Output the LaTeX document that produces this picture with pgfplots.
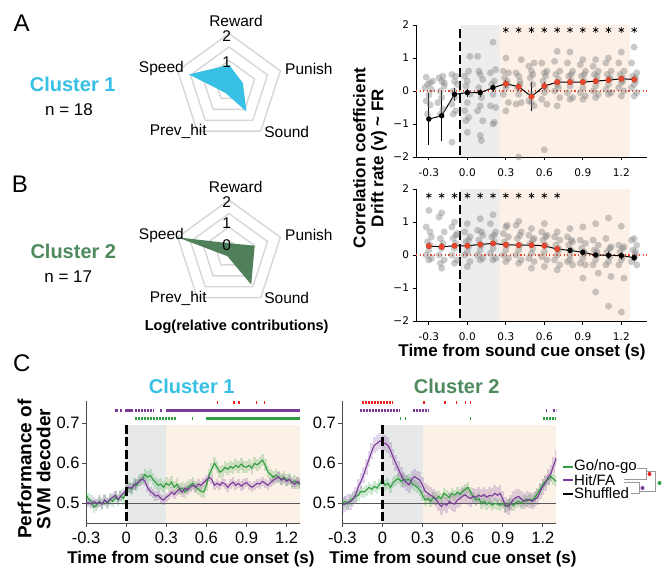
\documentclass[border=0pt]{standalone}
\usepackage{fontspec}
\setmainfont{Liberation Sans}
\newfontfamily\dejavu{DejaVu Sans}
\usepackage{pgfplots}
\usepackage{pgfplotstable}
\usepgfplotslibrary{polar}
\pgfplotsset{compat=1.18}

\newcommand{\fsz}[2]{\fontsize{#1}{#2}\selectfont}

\definecolor{cyanc}{HTML}{37C0E3}
\definecolor{greenc}{HTML}{4E8A5D}
\definecolor{greenf}{HTML}{4F8059}
\definecolor{ringc}{HTML}{D6D6D6}
\definecolor{shgray}{HTML}{EDEDED}
\definecolor{shorange}{HTML}{FDF1E7}
\definecolor{ptgray}{HTML}{808080}
\definecolor{redpt}{HTML}{E8472E}
\definecolor{gogreen}{HTML}{2E9E3E}
\definecolor{hitpurple}{HTML}{7A3B9A}
\definecolor{sigred}{HTML}{E82020}
\definecolor{cgray}{HTML}{E6E9E8}
\definecolor{corange}{HTML}{FCF1E6}

% scatter of single-neuron correlations, cluster 1
\pgfplotstableread[row sep=\\]{
x y\\
-0.32 0.42\\ -0.29 0.25\\ -0.31 0.2\\ -0.28 0.05\\ -0.3 -0.12\\ -0.32 -0.3\\ -0.29 -0.42\\ -0.31 -0.7\\ -0.27 0.3\\ -0.33 0.1\\
-0.22 0.4\\ -0.19 0.45\\ -0.2 0.3\\ -0.18 0.15\\ -0.21 0.0\\ -0.2 -0.2\\ -0.23 -0.35\\ -0.19 -0.55\\ -0.21 -0.7\\ -0.18 0.25\\
-0.12 0.5\\ -0.09 0.45\\ -0.1 0.3\\ -0.08 0.2\\ -0.11 0.0\\ -0.1 -0.2\\ -0.12 -0.4\\ -0.09 -0.6\\ -0.11 -0.7\\ -0.12 -1.55\\
-0.02 0.45\\ 0.01 0.6\\ 0.02 1.05\\ 0.0 0.3\\ -0.01 0.15\\ 0.02 -0.1\\ 0.0 -0.35\\ -0.02 -0.6\\ 0.01 -0.8\\ 0.0 -1.25\\ -0.01 -0.9\\
0.08 1.05\\ 0.1 0.5\\ 0.12 0.35\\ 0.09 0.1\\ 0.11 -0.2\\ 0.1 -0.45\\ 0.08 -0.6\\ 0.12 -0.9\\ 0.1 -1.35\\ 0.11 -1.5\\ 0.09 0.6\\
0.2 1.48\\ 0.22 0.65\\ 0.18 0.55\\ 0.21 0.3\\ 0.19 0.2\\ 0.2 -0.1\\ 0.22 -0.5\\ 0.18 -0.45\\ 0.2 -1.0\\ 0.21 -0.95\\
0.3 1.0\\ 0.28 0.6\\ 0.32 0.55\\ 0.29 0.4\\ 0.31 0.3\\ 0.3 0.1\\ 0.28 -0.1\\ 0.32 -0.35\\ 0.3 -0.6\\ 0.31 0.2\\
0.42 0.95\\ 0.38 0.55\\ 0.4 0.45\\ 0.41 0.3\\ 0.39 0.1\\ 0.4 -0.1\\ 0.42 -0.35\\ 0.38 -0.4\\ 0.4 -2.0\\ 0.41 0.2\\
0.48 0.75\\ 0.52 0.85\\ 0.5 0.6\\ 0.49 0.4\\ 0.51 0.2\\ 0.5 -0.1\\ 0.48 -0.3\\ 0.52 -0.45\\ 0.5 -0.35\\ 0.51 0.5\\
0.58 0.85\\ 0.62 0.6\\ 0.6 0.55\\ 0.59 0.3\\ 0.61 0.1\\ 0.6 -0.05\\ 0.58 -0.25\\ 0.62 -0.4\\ 0.6 -1.78\\ 0.61 0.45\\
0.7 1.2\\ 0.68 0.9\\ 0.72 0.6\\ 0.69 0.5\\ 0.71 0.35\\ 0.7 0.2\\ 0.68 0.0\\ 0.72 -0.2\\ 0.7 -0.45\\ 0.71 0.1\\
0.8 1.18\\ 0.78 0.85\\ 0.82 0.6\\ 0.79 0.45\\ 0.81 0.3\\ 0.8 0.15\\ 0.78 -0.05\\ 0.82 -0.2\\ 0.8 -0.25\\ 0.81 0.5\\
0.9 0.95\\ 0.88 0.8\\ 0.92 0.6\\ 0.89 0.45\\ 0.91 0.3\\ 0.9 0.1\\ 0.88 -0.05\\ 0.92 -0.15\\ 0.9 -0.25\\ 0.91 0.5\\
1.0 0.95\\ 0.98 0.75\\ 1.02 0.6\\ 0.99 0.5\\ 1.01 0.3\\ 1.0 0.15\\ 0.98 0.0\\ 1.02 -0.1\\ 1.0 -0.2\\ 1.01 0.45\\
1.1 1.0\\ 1.08 0.85\\ 1.12 0.6\\ 1.09 0.5\\ 1.11 0.35\\ 1.1 0.2\\ 1.08 0.05\\ 1.12 -0.05\\ 1.1 -0.1\\ 1.11 0.4\\
1.2 1.18\\ 1.18 0.85\\ 1.22 0.6\\ 1.19 0.5\\ 1.21 0.4\\ 1.2 0.25\\ 1.18 0.1\\ 1.22 0.0\\ 1.2 -0.15\\ 1.21 0.3\\
1.3 1.33\\ 1.28 0.85\\ 1.32 0.55\\ 1.29 0.45\\ 1.31 0.3\\ 1.3 0.2\\ 1.28 0.1\\ 1.32 -0.05\\ 1.3 -0.15\\ 1.31 0.4\\
}\scatA

% cluster 2
\pgfplotstableread[row sep=\\]{
x y\\
-0.3 1.35\\ -0.32 0.85\\ -0.28 0.55\\ -0.31 0.4\\ -0.29 0.3\\ -0.3 0.15\\ -0.32 0.0\\ -0.28 -0.1\\ -0.3 -0.15\\ -0.29 0.7\\
-0.2 1.28\\ -0.22 1.15\\ -0.18 0.7\\ -0.21 0.5\\ -0.19 0.35\\ -0.2 0.2\\ -0.22 0.0\\ -0.18 -0.15\\ -0.2 -0.4\\ -0.21 -0.25\\
-0.1 1.0\\ -0.12 0.85\\ -0.08 0.65\\ -0.11 0.5\\ -0.09 0.35\\ -0.1 0.2\\ -0.12 0.0\\ -0.08 -0.15\\ -0.1 -0.25\\ -0.09 0.6\\
0.0 0.95\\ -0.02 0.7\\ 0.02 0.55\\ -0.01 0.4\\ 0.01 0.25\\ 0.0 0.1\\ -0.02 0.0\\ 0.02 -0.2\\ 0.0 -0.35\\ 0.01 0.45\\
0.1 1.1\\ 0.08 0.75\\ 0.12 0.6\\ 0.09 0.45\\ 0.11 0.3\\ 0.1 0.15\\ 0.08 0.0\\ 0.12 -0.1\\ 0.1 -0.15\\ 0.11 0.7\\
0.2 1.22\\ 0.18 0.95\\ 0.22 0.7\\ 0.19 0.55\\ 0.21 0.4\\ 0.2 0.2\\ 0.18 0.05\\ 0.22 -0.1\\ 0.2 -0.15\\ 0.21 0.6\\
0.3 0.85\\ 0.28 0.65\\ 0.32 0.55\\ 0.29 0.4\\ 0.31 0.3\\ 0.3 0.15\\ 0.28 0.0\\ 0.32 -0.1\\ 0.3 -0.2\\ 0.31 0.9\\
0.4 1.02\\ 0.38 0.9\\ 0.42 0.7\\ 0.39 0.5\\ 0.41 0.3\\ 0.4 0.15\\ 0.38 0.0\\ 0.42 -0.15\\ 0.4 -0.25\\ 0.41 0.6\\
0.5 0.8\\ 0.48 0.6\\ 0.52 0.5\\ 0.49 0.35\\ 0.51 0.2\\ 0.5 0.05\\ 0.48 -0.1\\ 0.52 -0.2\\ 0.5 -0.4\\ 0.51 0.45\\
0.6 0.95\\ 0.58 0.7\\ 0.62 0.6\\ 0.59 0.45\\ 0.61 0.3\\ 0.6 0.1\\ 0.58 -0.05\\ 0.62 -0.15\\ 0.6 -0.35\\ 0.61 0.55\\
0.7 0.7\\ 0.68 0.55\\ 0.72 0.45\\ 0.69 0.3\\ 0.71 0.15\\ 0.7 0.0\\ 0.68 -0.15\\ 0.72 -0.3\\ 0.7 -0.45\\ 0.71 0.2\\
0.8 0.8\\ 0.78 0.55\\ 0.82 0.4\\ 0.79 0.3\\ 0.81 0.15\\ 0.8 0.0\\ 0.78 -0.2\\ 0.82 -0.3\\ 0.8 -0.15\\ 0.81 0.45\\
0.9 0.85\\ 0.88 0.45\\ 0.92 0.35\\ 0.89 0.2\\ 0.91 0.05\\ 0.9 -0.1\\ 0.88 -0.25\\ 0.92 -0.3\\ 0.9 -0.7\\ 0.91 0.1\\
1.0 0.95\\ 0.98 0.45\\ 1.02 0.3\\ 0.99 0.15\\ 1.01 0.0\\ 1.0 -0.15\\ 0.98 -0.3\\ 1.02 -0.55\\ 1.0 -1.12\\ 1.01 0.1\\
1.1 1.12\\ 1.08 0.5\\ 1.12 0.25\\ 1.09 0.1\\ 1.11 -0.05\\ 1.1 -0.2\\ 1.08 -0.3\\ 1.12 -0.65\\ 1.1 -1.55\\ 1.11 0.2\\
1.2 0.87\\ 1.18 0.3\\ 1.22 0.25\\ 1.19 0.1\\ 1.21 -0.05\\ 1.2 -0.15\\ 1.18 -0.3\\ 1.22 -0.7\\ 1.2 -1.73\\ 1.21 0.2\\
1.3 0.5\\ 1.28 0.45\\ 1.32 0.3\\ 1.29 0.15\\ 1.31 0.0\\ 1.3 -0.1\\ 1.28 -0.2\\ 1.32 -0.3\\ 1.3 -2.02\\ 1.31 0.1\\
}\scatB

\pgfplotstableread[row sep=\\]{
x y e\\
-0.3 -0.85 0.8\\ -0.2 -0.75 0.75\\ -0.1 -0.1 0.2\\ 0.0 -0.05 0.12\\ 0.1 -0.05 0.12\\ 0.2 0.1 0.12\\
0.3 0.22 0.12\\ 0.4 0.13 0.12\\ 0.5 -0.17 0.45\\ 0.6 0.15 0.12\\ 0.7 0.27 0.08\\ 0.8 0.27 0.08\\
0.9 0.27 0.08\\ 1.0 0.3 0.08\\ 1.1 0.33 0.08\\ 1.2 0.37 0.08\\ 1.3 0.35 0.08\\
}\meanA

\pgfplotstableread[row sep=\\]{
x y e\\
-0.3 0.27 0.1\\ -0.2 0.25 0.1\\ -0.1 0.28 0.08\\ 0.0 0.28 0.07\\ 0.1 0.32 0.08\\ 0.2 0.35 0.08\\
0.3 0.31 0.07\\ 0.4 0.3 0.08\\ 0.5 0.3 0.07\\ 0.6 0.28 0.08\\ 0.7 0.18 0.08\\ 0.8 0.14 0.08\\
0.9 0.08 0.09\\ 1.0 0.0 0.1\\ 1.1 -0.01 0.12\\ 1.2 -0.02 0.12\\ 1.3 -0.08 0.1\\
}\meanB

% decoder performance, cluster 1: t, go/no-go, hit/FA
\pgfplotstableread[row sep=\\]{
t g p\\
-0.30 0.523 0.500\\ -0.28 0.510 0.502\\ -0.26 0.505 0.498\\ -0.24 0.490 0.505\\ -0.22 0.496 0.500\\
-0.20 0.505 0.503\\ -0.18 0.498 0.498\\ -0.16 0.508 0.508\\ -0.14 0.500 0.502\\ -0.12 0.510 0.510\\
-0.10 0.505 0.515\\ -0.08 0.515 0.520\\ -0.06 0.508 0.510\\ -0.04 0.518 0.518\\ -0.02 0.512 0.525\\
0.00 0.530 0.533\\ 0.02 0.540 0.540\\ 0.04 0.535 0.538\\ 0.06 0.548 0.545\\ 0.08 0.545 0.550\\
0.10 0.558 0.555\\ 0.12 0.560 0.562\\ 0.14 0.572 0.555\\ 0.16 0.565 0.540\\ 0.18 0.570 0.530\\
0.20 0.560 0.525\\ 0.22 0.552 0.518\\ 0.24 0.545 0.520\\ 0.26 0.548 0.512\\ 0.28 0.540 0.508\\
0.30 0.550 0.515\\ 0.32 0.545 0.520\\ 0.34 0.553 0.528\\ 0.36 0.540 0.522\\ 0.38 0.548 0.530\\
0.40 0.535 0.535\\ 0.42 0.538 0.528\\ 0.44 0.528 0.538\\ 0.46 0.540 0.533\\ 0.48 0.545 0.540\\
0.50 0.550 0.545\\ 0.52 0.540 0.540\\ 0.54 0.535 0.548\\ 0.56 0.530 0.545\\ 0.58 0.528 0.552\\
0.60 0.545 0.558\\ 0.62 0.570 0.565\\ 0.64 0.585 0.560\\ 0.66 0.600 0.545\\ 0.68 0.590 0.550\\
0.70 0.578 0.545\\ 0.72 0.582 0.552\\ 0.74 0.590 0.548\\ 0.76 0.585 0.540\\ 0.78 0.592 0.548\\
0.80 0.588 0.553\\ 0.82 0.595 0.545\\ 0.84 0.590 0.550\\ 0.86 0.598 0.543\\ 0.88 0.592 0.548\\
0.90 0.590 0.552\\ 0.92 0.595 0.545\\ 0.94 0.588 0.540\\ 0.96 0.600 0.545\\ 0.98 0.596 0.550\\
1.00 0.602 0.548\\ 1.02 0.608 0.555\\ 1.04 0.595 0.550\\ 1.06 0.578 0.545\\ 1.08 0.572 0.552\\
1.10 0.565 0.558\\ 1.12 0.570 0.562\\ 1.14 0.566 0.566\\ 1.16 0.560 0.558\\ 1.18 0.565 0.562\\
1.20 0.558 0.555\\ 1.22 0.560 0.560\\ 1.24 0.552 0.552\\ 1.26 0.556 0.548\\ 1.28 0.550 0.555\\
1.30 0.548 0.550\\
}\cone

% cluster 2
\pgfplotstableread[row sep=\\]{
t g p\\
-0.30 0.500 0.496\\ -0.28 0.505 0.498\\ -0.26 0.498 0.503\\ -0.24 0.508 0.504\\ -0.22 0.512 0.510\\
-0.20 0.517 0.522\\ -0.18 0.520 0.542\\ -0.16 0.530 0.555\\ -0.14 0.528 0.572\\ -0.12 0.533 0.592\\
-0.10 0.540 0.610\\ -0.08 0.535 0.630\\ -0.06 0.542 0.645\\ -0.04 0.538 0.650\\ -0.02 0.548 0.656\\
0.00 0.558 0.652\\ 0.02 0.545 0.650\\ 0.04 0.550 0.645\\ 0.06 0.540 0.633\\ 0.08 0.552 0.615\\
0.10 0.558 0.600\\ 0.12 0.562 0.585\\ 0.14 0.555 0.570\\ 0.16 0.560 0.558\\ 0.18 0.558 0.552\\
0.20 0.560 0.546\\ 0.22 0.550 0.560\\ 0.24 0.545 0.567\\ 0.26 0.540 0.562\\ 0.28 0.533 0.558\\
0.30 0.520 0.545\\ 0.32 0.508 0.530\\ 0.34 0.512 0.525\\ 0.36 0.505 0.520\\ 0.38 0.515 0.517\\
0.40 0.510 0.510\\ 0.42 0.517 0.500\\ 0.44 0.512 0.492\\ 0.46 0.525 0.500\\ 0.48 0.520 0.495\\
0.50 0.515 0.505\\ 0.52 0.525 0.500\\ 0.54 0.520 0.498\\ 0.56 0.528 0.508\\ 0.58 0.522 0.512\\
0.60 0.530 0.518\\ 0.62 0.535 0.521\\ 0.64 0.540 0.515\\ 0.66 0.528 0.512\\ 0.68 0.515 0.518\\
0.70 0.508 0.515\\ 0.72 0.512 0.520\\ 0.74 0.500 0.517\\ 0.76 0.505 0.522\\ 0.78 0.498 0.515\\
0.80 0.502 0.520\\ 0.82 0.495 0.518\\ 0.84 0.500 0.525\\ 0.86 0.498 0.520\\ 0.88 0.495 0.525\\
0.90 0.500 0.510\\ 0.92 0.492 0.495\\ 0.94 0.498 0.492\\ 0.96 0.500 0.500\\ 0.98 0.495 0.510\\
1.00 0.502 0.515\\ 1.02 0.505 0.517\\ 1.04 0.500 0.510\\ 1.06 0.508 0.505\\ 1.08 0.505 0.510\\
1.10 0.510 0.508\\ 1.12 0.508 0.505\\ 1.14 0.515 0.510\\ 1.16 0.525 0.515\\ 1.18 0.535 0.530\\
1.20 0.548 0.542\\ 1.22 0.555 0.552\\ 1.24 0.560 0.565\\ 1.26 0.567 0.575\\ 1.28 0.560 0.595\\
1.30 0.555 0.613\\
}\ctwo

\pgfplotsset{
  radar/.style={hide axis, scale only axis, width=108pt, height=108pt,
    xmin=0, xmax=360, ymin=0, ymax=1, anchor=center, clip=false},
  ring/.style={ringc, line width=1.4pt},
  corr/.style={scale only axis, width=231pt, height=132pt, anchor=south west,
    xmin=-0.4, xmax=1.4, ymin=-2, ymax=2,
    axis x line*=bottom, axis y line*=left,
    axis line style={-, line width=0.8pt},
    tick align=outside, major tick length=3.5pt,
    tick style={black, line width=0.8pt},
    xtick={-0.3,0,0.3,0.6,0.9,1.2}, xticklabels={-0.3,0.0,0.3,0.6,0.9,1.2},
    ytick={-2,-1,0,1,2}, yticklabels={−2,−1,0,1,2},
    ticklabel style={font=\dejavu\fsz{10.5}{12}},
    xticklabel style={yshift=-5pt}},
  scat/.style={only marks, mark=*, mark size=3.5pt, color=ptgray,
    mark options={draw opacity=0, fill=ptgray, fill opacity=0.42}},
  meanline/.style={black, line width=1pt, mark=*, mark size=2.2pt,
    error bars/.cd, y dir=both, y explicit,
    error bar style={line width=0.9pt, black}, error mark=none},
  vdash/.style={black, line width=2pt, dash pattern=on 9pt off 4pt},
  perf/.style={scale only axis, width=214pt, height=122.8pt, anchor=south west,
    xmin=-0.3, xmax=1.3, ymin=0.45, ymax=0.757,
    axis x line*=bottom, axis y line*=left,
    axis line style={-, line width=0.9pt, black!70},
    tick align=outside, major tick length=4pt,
    tick style={black!70, line width=0.9pt},
    xtick={-0.3,0,0.3,0.6,0.9,1.2}, xticklabels={-0.3,0,0.3,0.6,0.9,1.2},
    ytick={0.5,0.6,0.7}, yticklabels={0.5,0.6,0.7},
    ticklabel style={font=\fsz{16.5}{18}},
    yticklabel style={xshift=1pt},
    xticklabel style={yshift=-3pt, inner sep=1pt}},
  band/.style={draw=none, mark=none,
    error bars/.cd, y dir=both, y explicit,
    error bar style={draw=#1, draw opacity=0.22, line width=2.7pt}, error mark=none},
  sig/.style={line width=3pt, dash pattern=on 2.4pt off 0.6pt, #1},
}

\begin{document}
\begin{tikzpicture}
\useasboundingbox (0pt,0pt) rectangle (669pt,-572pt);

% ---------- panel letters and cluster names ----------
\node[font=\fsz{24}{24}] at (21.7pt,-23pt) {A};
\node[font=\fsz{24}{24}] at (20pt,-184pt) {B};
\node[font=\fsz{24}{24}] at (21.7pt,-363pt) {C};
\node[font=\bfseries\fsz{20}{20}, text=cyanc] at (72.7pt,-84pt) {Cluster 1};
\node[font=\fsz{17}{17}] at (69pt,-109.3pt) {n = 18};
\node[font=\bfseries\fsz{20}{20}, text=greenc] at (73.3pt,-251.7pt) {Cluster 2};
\node[font=\fsz{17}{17}] at (68.3pt,-276.7pt) {n = 17};

% ---------- radar, cluster 1 ----------
% angles: Reward 90, Punish 18, Sound -54, Prev_hit -126, Speed 162
\begin{polaraxis}[radar, at={(229pt,-87.5pt)}]
\addplot[ring] coordinates {(90,1)(18,1)(-54,1)(-126,1)(162,1)(90,1)};
\addplot[ring] coordinates {(90,0.75)(18,0.75)(-54,0.75)(-126,0.75)(162,0.75)(90,0.75)};
\addplot[ring] coordinates {(90,0.5)(18,0.5)(-54,0.5)(-126,0.5)(162,0.5)(90,0.5)};
\addplot[ring] coordinates {(90,0.25)(18,0.25)(-54,0.25)(-126,0.25)(162,0.25)(90,0.25)};
\addplot[draw=none, fill=cyanc] coordinates {(90,0.42)(18,0.27)(-54,0.55)(-126,0.12)(162,0.78)(90,0.42)};
\end{polaraxis}
\begin{scope}[font=\fsz{15.5}{16}, inner sep=0pt]
\node at (236pt,-21pt) {Reward};
\node[anchor=west] at (285pt,-68.5pt) {Punish};
\node at (286.7pt,-131.7pt) {Sound};
\node at (178.3pt,-131.7pt) {Prev\_hit};
\node[anchor=east] at (184pt,-68.5pt) {Speed};
\node at (226.7pt,-36.5pt) {2};
\node at (226.7pt,-61.7pt) {1};
\end{scope}

% ---------- radar, cluster 2 ----------
\begin{polaraxis}[radar, at={(229pt,-254pt)}]
\addplot[ring] coordinates {(90,1)(18,1)(-54,1)(-126,1)(162,1)(90,1)};
\addplot[ring] coordinates {(90,0.75)(18,0.75)(-54,0.75)(-126,0.75)(162,0.75)(90,0.75)};
\addplot[ring] coordinates {(90,0.5)(18,0.5)(-54,0.5)(-126,0.5)(162,0.5)(90,0.5)};
\addplot[ring] coordinates {(90,0.25)(18,0.25)(-54,0.25)(-126,0.25)(162,0.25)(90,0.25)};
\addplot[draw=none, fill=greenf] coordinates {(90,0.2)(18,0.5)(-54,0.7)(-126,0.05)(162,1.0)(90,0.2)};
\end{polaraxis}
\begin{scope}[font=\fsz{15.5}{16}, inner sep=0pt]
\node at (235.7pt,-186.5pt) {Reward};
\node[anchor=west] at (285pt,-235pt) {Punish};
\node at (286.7pt,-298.3pt) {Sound};
\node at (178.3pt,-298.3pt) {Prev\_hit};
\node[anchor=east] at (184pt,-235pt) {Speed};
\node at (226.7pt,-202pt) {2};
\node at (226.7pt,-223pt) {1};
\node at (226.7pt,-245pt) {0};
\end{scope}
\node[font=\bfseries\fsz{14.5}{15}] at (236.7pt,-327pt) {Log(relative contributions)};

% ---------- correlation, cluster 1 ----------
\begin{axis}[corr, at={(416pt,-157pt)}]
\fill[shgray] (-0.055,-2) rectangle (0.255,2);
\fill[shorange] (0.255,-2) rectangle (1.265,2);
\addplot[scat] table[x=x,y=y] {\scatA};
\addplot[redpt, line width=1.2pt, dash pattern=on 1.2pt off 2.4pt] coordinates {(-0.4,0)(1.4,0)};
\addplot[meanline] table[x=x,y=y,y error=e] {\meanA};
\addplot[only marks, mark=*, mark size=2.7pt, color=redpt] coordinates {
  (0.3,0.22)(0.4,0.13)(0.5,-0.17)(0.6,0.15)(0.7,0.27)(0.8,0.27)(0.9,0.27)(1.0,0.3)(1.1,0.33)(1.2,0.37)(1.3,0.35)};
\addplot[vdash] coordinates {(-0.055,1.87)(-0.055,-2)};
\addplot[only marks, mark=asterisk, mark size=3pt, black, line width=0.7pt] coordinates {
  (0.3,1.85)(0.4,1.85)(0.5,1.85)(0.6,1.85)(0.7,1.85)(0.8,1.85)(0.9,1.85)(1.0,1.85)(1.1,1.85)(1.2,1.85)(1.3,1.85)};
\end{axis}

% ---------- correlation, cluster 2 ----------
\begin{axis}[corr, at={(416pt,-321pt)}]
\fill[shgray] (-0.055,-2) rectangle (0.255,2);
\fill[shorange] (0.255,-2) rectangle (1.265,2);
\addplot[scat] table[x=x,y=y] {\scatB};
\addplot[redpt, line width=1.2pt, dash pattern=on 1.2pt off 2.4pt] coordinates {(-0.4,0)(1.4,0)};
\addplot[meanline] table[x=x,y=y,y error=e] {\meanB};
\addplot[only marks, mark=*, mark size=2.7pt, color=redpt] coordinates {
  (-0.3,0.27)(-0.2,0.25)(-0.1,0.28)(0.0,0.28)(0.1,0.32)(0.2,0.35)(0.3,0.31)(0.4,0.3)(0.5,0.3)(0.6,0.28)(0.7,0.18)};
\addplot[vdash] coordinates {(-0.055,1.9)(-0.055,-2)};
\addplot[only marks, mark=asterisk, mark size=3pt, black, line width=0.7pt] coordinates {
  (-0.3,1.8)(-0.2,1.8)(-0.1,1.8)(0.0,1.8)(0.1,1.8)(0.2,1.8)(0.3,1.8)(0.4,1.8)(0.5,1.8)(0.6,1.8)(0.7,1.8)};
\end{axis}

\node[font=\bfseries\fsz{17}{18}, rotate=90, align=center] at (370pt,-158pt)
  {Correlation coefficient\\Drift rate (v) \textasciitilde{} FR};
\node[font=\bfseries\fsz{17}{18}, inner sep=0pt] at (522pt,-352pt) {Time from sound cue onset (s)};

% ---------- decoder, cluster 1 ----------
\begin{axis}[perf, at={(86pt,-523.3pt)}]
\fill[cgray] (0,0.45) rectangle (0.3,0.695);
\fill[corange] (0.3,0.45) rectangle (1.3,0.695);
\addplot[black!65, line width=1.1pt] coordinates {(-0.3,0.5)(1.3,0.5)};
\addplot[band=gogreen] table[x=t, y=g, y error expr=0.015] {\cone};
\addplot[band=hitpurple] table[x=t, y=p, y error expr=0.012] {\cone};
\addplot[gogreen, line width=1.1pt] table[x=t,y=g] {\cone};
\addplot[hitpurple, line width=1.1pt] table[x=t,y=p] {\cone};
\addplot[black, line width=3pt, dash pattern=on 9pt off 3.5pt] coordinates {(0,0.697)(0,0.45)};
% significance rows
\addplot[sig=hitpurple] coordinates {(-0.08,0.732)(-0.06,0.732)};
\addplot[sig=hitpurple] coordinates {(-0.045,0.732)(-0.03,0.732)};
\addplot[sig=hitpurple] coordinates {(-0.005,0.732)(0.05,0.732)};
\addplot[sig=hitpurple] coordinates {(0.065,0.732)(0.2,0.732)};
\addplot[sig=hitpurple] coordinates {(0.255,0.732)(0.265,0.732)};
\addplot[sig=hitpurple] coordinates {(0.3,0.732)(1.3,0.732)};
\addplot[sig=gogreen] coordinates {(0.066,0.711)(0.378,0.711)};
\addplot[sig=gogreen] coordinates {(0.492,0.711)(0.502,0.711)};
\addplot[sig=gogreen] coordinates {(0.6,0.711)(1.3,0.711)};
\addplot[sig=sigred] coordinates {(0.677,0.752)(0.69,0.752)};
\addplot[sig=sigred] coordinates {(0.802,0.752)(0.812,0.752)};
\addplot[sig=sigred] coordinates {(0.84,0.752)(0.85,0.752)};
\addplot[sig=sigred] coordinates {(0.97,0.752)(0.98,0.752)};
\addplot[sig=sigred] coordinates {(1.032,0.752)(1.042,0.752)};
\end{axis}

% ---------- decoder, cluster 2 ----------
\begin{axis}[perf, at={(342.3pt,-523.3pt)}]
\fill[cgray] (0,0.45) rectangle (0.3,0.695);
\fill[corange] (0.3,0.45) rectangle (1.3,0.695);
\addplot[black!65, line width=1.1pt] coordinates {(-0.3,0.5)(1.3,0.5)};
\addplot[band=gogreen] table[x=t, y=g, y error expr=0.014] {\ctwo};
\addplot[band=hitpurple] table[x=t, y=p, y error expr=0.02] {\ctwo};
\addplot[gogreen, line width=1.1pt] table[x=t,y=g] {\ctwo};
\addplot[hitpurple, line width=1.1pt] table[x=t,y=p] {\ctwo};
\addplot[black, line width=3pt, dash pattern=on 9pt off 3.5pt] coordinates {(0,0.697)(0,0.45)};
% significance rows
\addplot[sig=hitpurple] coordinates {(-0.168,0.732)(0.13,0.732)};
\addplot[sig=hitpurple] coordinates {(0.225,0.732)(0.342,0.732)};
\addplot[sig=hitpurple] coordinates {(1.22,0.732)(1.23,0.732)};
\addplot[sig=hitpurple] coordinates {(1.272,0.732)(1.3,0.732)};
\addplot[sig=gogreen] coordinates {(0.128,0.711)(0.138,0.711)};
\addplot[sig=gogreen] coordinates {(0.168,0.711)(0.178,0.711)};
\addplot[sig=gogreen] coordinates {(0.655,0.711)(0.665,0.711)};
\addplot[sig=gogreen] coordinates {(1.2,0.711)(1.3,0.711)};
\addplot[sig=sigred] coordinates {(-0.156,0.752)(0.076,0.752)};
\addplot[sig=sigred] coordinates {(0.305,0.752)(0.315,0.752)};
\addplot[sig=sigred] coordinates {(0.462,0.752)(0.472,0.752)};
\addplot[sig=sigred] coordinates {(0.548,0.752)(0.558,0.752)};
\addplot[sig=sigred] coordinates {(0.618,0.752)(0.628,0.752)};
\addplot[sig=sigred] coordinates {(0.653,0.752)(0.663,0.752)};
\end{axis}

\node[font=\bfseries\fsz{20}{20}, text=cyanc] at (191.7pt,-386.7pt) {Cluster 1};
\node[font=\bfseries\fsz{20}{20}, text=greenc] at (456.7pt,-386.7pt) {Cluster 2};
\node[font=\bfseries\fsz{19}{19}, rotate=90, align=center] at (34pt,-469pt) {Performance of\\SVM decoder};
\node[font=\bfseries\fsz{17}{18}, inner sep=0pt] at (191pt,-559.5pt) {Time from sound cue onset (s)};
\node[font=\bfseries\fsz{17}{18}, inner sep=0pt] at (453pt,-559.5pt) {Time from sound cue onset (s)};

% ---------- legend with comparison brackets ----------
\draw[gogreen, line width=2pt] (562.7pt,-466.5pt) -- (573pt,-466.5pt);
\draw[hitpurple, line width=2pt] (562.7pt,-480pt) -- (573pt,-480pt);
\draw[black, line width=2pt] (562.7pt,-493.5pt) -- (573pt,-493.5pt);
\node[anchor=west, font=\fsz{15}{15}, inner sep=0pt] at (574pt,-466.5pt) {Go/no-go};
\node[anchor=west, font=\fsz{15}{15}, inner sep=0pt] at (574pt,-480pt) {Hit/FA};
\node[anchor=west, font=\fsz{15}{15}, inner sep=0pt] at (574pt,-493.5pt) {Shuffled};
\draw[black!40, line width=0.7pt] (637pt,-468pt) -- (646pt,-468pt) -- (646pt,-479pt) -- (624pt,-479pt);
\draw[black!40, line width=0.7pt] (624pt,-482pt) -- (639pt,-482pt) -- (639pt,-493pt) -- (631pt,-493pt);
\draw[black!40, line width=0.7pt] (646pt,-471pt) -- (655pt,-471pt) -- (655pt,-491pt) -- (639pt,-491pt);
\fill[sigred] (649.5pt,-474pt) circle (2pt);
\fill[hitpurple] (642.5pt,-488pt) circle (2pt);
\fill[gogreen] (659.5pt,-483pt) circle (2pt);
\end{tikzpicture}
\end{document}
